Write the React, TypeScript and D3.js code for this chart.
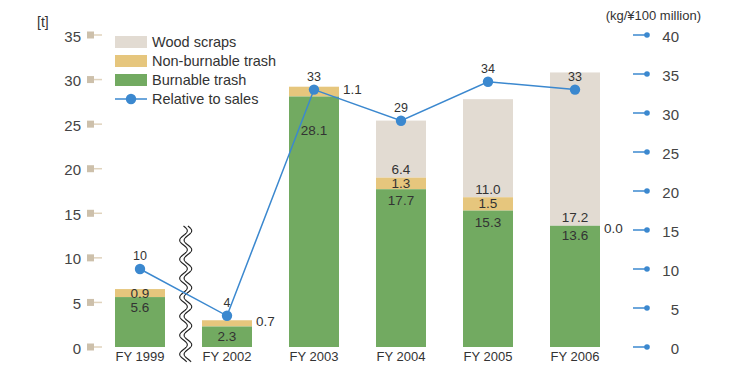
import React from "react";
import * as d3 from "d3";

// Fiscal years shown on the category axis
const years = ["FY 1999", "FY 2002", "FY 2003", "FY 2004", "FY 2005", "FY 2006"];
// Waste amounts in tonnes (stacked bottom to top)
const burnable = [5.6, 2.3, 28.1, 17.7, 15.3, 13.6];
const nonBurnable = [0.9, 0.7, 1.1, 1.3, 1.5, 0.0];
const woodScraps: (number | null)[] = [null, null, null, 6.4, 11.0, 17.2];
// Waste per ¥100 million of sales (kg)
const relativeToSales = [10, 4, 33, 29, 34, 33];

const leftTicks = [0, 5, 10, 15, 20, 25, 30, 35];
const rightTicks = [0, 5, 10, 15, 20, 25, 30, 35, 40];

const W = 731;
const H = 368;
const FONT = "'Liberation Sans', Arial, Helvetica, sans-serif";
const C_WOOD = "#e2dbd2";
const C_NON = "#e6c67d";
const C_BURN = "#72aa61";
const C_LINE = "#3b88cf";
const C_TEXT = "#333";

// Label layout tweaks per bar
const burnLabelDy = [10, 10, 34, 11, 12, 10];
const nonLabelOutside = [false, true, true, false, false, true];

export default function App() {
  const x = d3.scalePoint<string>().domain(years).range([140, 575]);
  const yL = d3.scaleLinear().domain([0, 35]).range([347, 35]);
  const yR = d3.scaleLinear().domain([0, 40]).range([347, 35]);
  const barW = 50;

  const line = d3
    .line<number>()
    .x((_, i) => x(years[i])!)
    .y((d) => yR(d));

  // Axis break between FY 1999 and FY 2002
  const breakX = 185.7;
  const y0 = 226;
  const y1 = 362;
  const amp = 3.8;
  const period = 19;
  const wave = (dx: number) => {
    const pts: [number, number][] = [];
    for (let yy = y0; yy <= y1; yy += 0.5) {
      pts.push([breakX + dx + amp * Math.sin(((yy - y0) / period) * 2 * Math.PI), yy]);
    }
    return pts;
  };
  const wA = wave(-2.2);
  const wB = wave(2.2);
  const lineGen = d3.line();
  const fillPts = [...wA, ...wB.slice().reverse()];

  return (
    <svg
      width={W}
      height={H}
      style={{ position: "absolute", left: 0, top: 0, background: "#fff" }}
      fontFamily={FONT}
    >
      {/* units */}
      <text x={37} y={27} fontSize={14} fill={C_TEXT}>
        [t]
      </text>
      <text x={701} y={20} fontSize={13} fill={C_TEXT} textAnchor="end">
        (kg/¥100 million)
      </text>

      {/* left axis */}
      {leftTicks.map((t) => (
        <g key={"l" + t}>
          <rect x={87} y={yL(t) - 3.5} width={7} height={7} fill="#cdc0ab" />
          <line x1={94} x2={102} y1={yL(t)} y2={yL(t)} stroke="#e0d3bd" strokeWidth={1.5} />
          <text
            x={81}
            y={yL(t) + 1}
            fontSize={15}
            fill="#444"
            textAnchor="end"
            dominantBaseline="central"
          >
            {t}
          </text>
        </g>
      ))}

      {/* right axis */}
      {rightTicks.map((t) => (
        <g key={"r" + t}>
          <line x1={633} x2={647} y1={yR(t)} y2={yR(t)} stroke={C_LINE} strokeWidth={1.5} />
          <circle cx={647} cy={yR(t)} r={2.8} fill={C_LINE} />
          <text
            x={679}
            y={yR(t) + 1}
            fontSize={15}
            fill="#444"
            textAnchor="end"
            dominantBaseline="central"
          >
            {t}
          </text>
        </g>
      ))}

      {/* stacked bars */}
      {years.map((yr, i) => {
        const cx = x(yr)!;
        const bx = cx - barW / 2;
        const b = burnable[i];
        const n = nonBurnable[i];
        const w = woodScraps[i];
        const burnTop = yL(b);
        const nonTop = yL(b + n);
        const woodTop = w != null ? yL(b + n + w) : nonTop;
        return (
          <g key={yr}>
            {w != null && (
              <rect x={bx} y={woodTop} width={barW} height={nonTop - woodTop} fill={C_WOOD} />
            )}
            <rect x={bx} y={nonTop} width={barW} height={burnTop - nonTop} fill={C_NON} />
            <rect x={bx} y={burnTop} width={barW} height={yL(0) - burnTop} fill={C_BURN} />
            <text
              x={cx}
              y={burnTop + burnLabelDy[i]}
              fontSize={13.5}
              fill={C_TEXT}
              textAnchor="middle"
              dominantBaseline="central"
            >
              {b.toFixed(1)}
            </text>
            {nonLabelOutside[i] ? (
              <text
                x={bx + barW + 4}
                y={(nonTop + burnTop) / 2 + (n === 0 ? 3 : -2)}
                fontSize={13.5}
                fill={C_TEXT}
                dominantBaseline="central"
              >
                {n.toFixed(1)}
              </text>
            ) : (
              <text
                x={cx}
                y={(nonTop + burnTop) / 2}
                fontSize={13.5}
                fill={C_TEXT}
                textAnchor="middle"
                dominantBaseline="central"
              >
                {n.toFixed(1)}
              </text>
            )}
            {w != null && (
              <text
                x={cx}
                y={nonTop - 8}
                fontSize={13.5}
                fill={C_TEXT}
                textAnchor="middle"
                dominantBaseline="central"
              >
                {w.toFixed(1)}
              </text>
            )}
            <text
              x={cx}
              y={356}
              fontSize={13}
              fill={C_TEXT}
              textAnchor="middle"
              dominantBaseline="central"
            >
              {yr}
            </text>
          </g>
        );
      })}

      {/* axis break */}
      <path d={lineGen(fillPts as [number, number][])! + "Z"} fill="#fff" />
      <path d={lineGen(wA)!} fill="none" stroke="#222" strokeWidth={1.1} />
      <path d={lineGen(wB)!} fill="none" stroke="#222" strokeWidth={1.1} />

      {/* relative-to-sales line */}
      <path d={line(relativeToSales)!} fill="none" stroke={C_LINE} strokeWidth={1.5} />
      {relativeToSales.map((v, i) => (
        <g key={"p" + i}>
          <circle cx={x(years[i])!} cy={yR(v)} r={5.2} fill={C_LINE} />
          <text
            x={x(years[i])!}
            y={yR(v) - 13}
            fontSize={12.5}
            fill={C_TEXT}
            textAnchor="middle"
            dominantBaseline="central"
          >
            {v}
          </text>
        </g>
      ))}

      {/* legend */}
      <g>
        <rect x={115} y={36} width={32} height={12} fill={C_WOOD} />
        <text x={152} y={42} fontSize={14.5} fill={C_TEXT} dominantBaseline="central">
          Wood scraps
        </text>
        <rect x={115} y={55} width={32} height={12} fill={C_NON} />
        <text x={152} y={61} fontSize={14.5} fill={C_TEXT} dominantBaseline="central">
          Non-burnable trash
        </text>
        <rect x={115} y={74} width={32} height={12} fill={C_BURN} />
        <text x={152} y={80} fontSize={14.5} fill={C_TEXT} dominantBaseline="central">
          Burnable trash
        </text>
        <line x1={115} x2={147} y1={99} y2={99} stroke={C_LINE} strokeWidth={1.5} />
        <circle cx={131} cy={99} r={5.2} fill={C_LINE} />
        <text x={152} y={99} fontSize={14.5} fill={C_TEXT} dominantBaseline="central">
          Relative to sales
        </text>
      </g>
    </svg>
  );
}
